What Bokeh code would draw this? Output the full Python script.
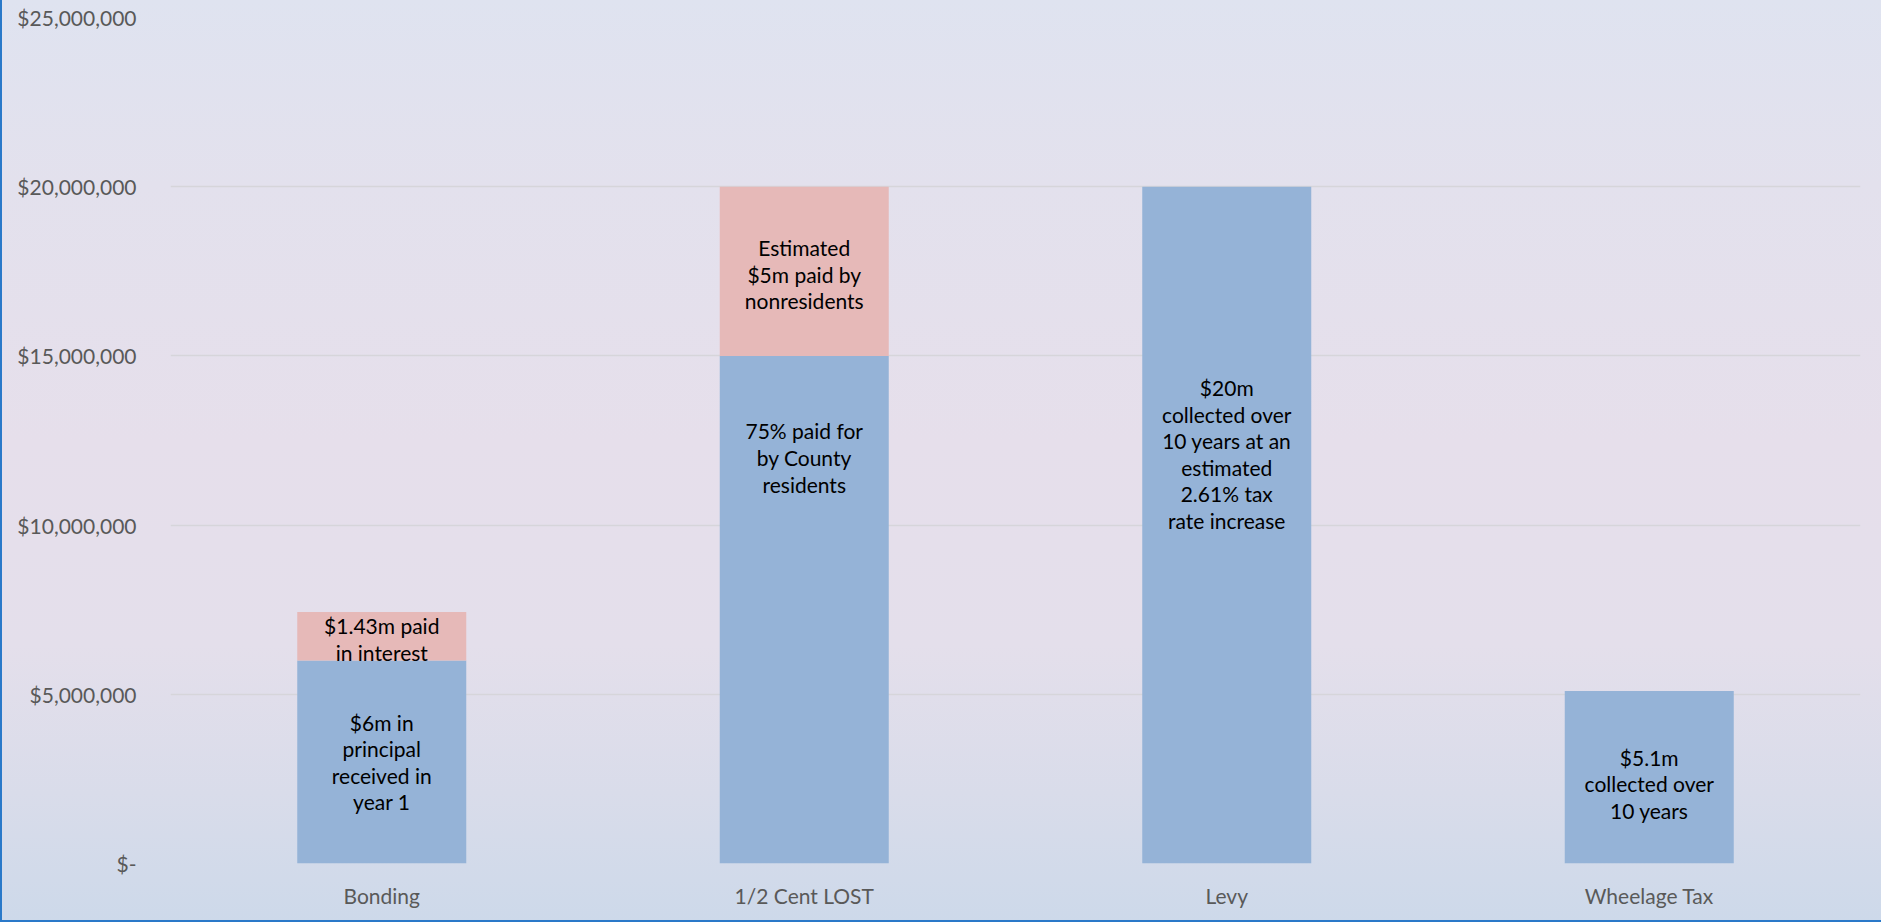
from bokeh.plotting import figure
from bokeh.models import ColumnDataSource, FixedTicker, CustomJSTickFormatter, FactorRange
from bokeh.core.properties import value
from bokeh.embed import file_html
from bokeh.resources import INLINE

# Funding options and the dollars each one brings in
categories = ["Bonding", "1/2 Cent LOST", "Levy", "Wheelage Tax"]
base_values = [6_000_000, 15_000_000, 20_000_000, 5_100_000]
extra_values = [1_430_000, 5_000_000, 0, 0]

base_labels = [
    "$6m in\nprincipal\nreceived in\nyear 1",
    "75% paid for\nby County\nresidents",
    "$20m\ncollected over\n10 years at an\nestimated\n2.61% tax\nrate increase",
    "$5.1m\ncollected over\n10 years",
]
extra_labels = [
    "$1.43m paid\nin interest",
    "Estimated\n$5m paid by\nnonresidents",
    "",
    "",
]

y_ticks = [0, 5_000_000, 10_000_000, 15_000_000, 20_000_000, 25_000_000]

# vertical anchor of each label inside the lower segment
base_label_y = [3_000_000, 12_000_000, 12_100_000, 2_350_000]

BLUE = "#95b3d7"
PINK = "#e6b9b8"
FONT = "Lato"
SIZE = "21px"

src = ColumnDataSource(dict(
    cat=categories,
    base=base_values,
    extra=extra_values,
))

p = figure(
    x_range=FactorRange(*categories, range_padding=0),
    y_range=(0, 25_000_000),
    width=1881, height=922,
    output_backend="svg", toolbar_location=None, tools="",
    min_border_left=170, min_border_right=21,
    min_border_top=17, min_border_bottom=59,
    border_fill_color=None, background_fill_color=None,
    outline_line_color=None,
)
p.styles = {
    "background": "linear-gradient(to bottom, #dfe3f0 0%, #e3e1ed 20%, #e6dfeb 48%, "
                  "#e4dfeb 70%, #d9dcea 86%, #cdd9ea 100%)",
    "box-shadow": "inset 2px -2px 0 #2a79c9",
}

p.vbar_stack(["base", "extra"], x="cat", width=0.4, source=src,
             color=[BLUE, PINK], line_color=None)

# labels inside the lower (blue) segments
lbl_base = ColumnDataSource(dict(x=categories, y=base_label_y, t=base_labels))
p.text(x="x", y="y", text="t", source=lbl_base,
       text_align="center", text_baseline="middle",
       text_font=value(FONT), text_font_size=SIZE, text_color="#000000",
       text_line_height=1.065)

# labels inside the upper (pink) segments, centred on each segment
extra_y = [b + e / 2 for b, e in zip(base_values, extra_values)]
lbl_extra = ColumnDataSource(dict(x=categories, y=extra_y, t=extra_labels))
p.text(x="x", y="y", text="t", source=lbl_extra,
       text_align="center", text_baseline="middle", y_offset=3,
       text_font=value(FONT), text_font_size=SIZE, text_color="#000000",
       text_line_height=1.065)

# axes
p.yaxis.ticker = FixedTicker(ticks=y_ticks)
p.yaxis.formatter = CustomJSTickFormatter(code="""
    if (tick == 0) { return "$-"; }
    return "$" + Math.round(tick).toLocaleString("en-US");
""")
for ax in (p.xaxis[0], p.yaxis[0]):
    ax.axis_line_color = None
    ax.major_tick_line_color = None
    ax.minor_tick_line_color = None
    ax.major_label_text_font = FONT
    ax.major_label_text_font_size = SIZE
    ax.major_label_text_color = "#595959"
p.yaxis.major_label_standoff = 28
p.xaxis.major_label_standoff = 13

p.xgrid.grid_line_color = None
p.ygrid.grid_line_color = "#d6d5da"
p.ygrid.grid_line_width = 1.5

open("out.html", "w").write(file_html(p, INLINE))
